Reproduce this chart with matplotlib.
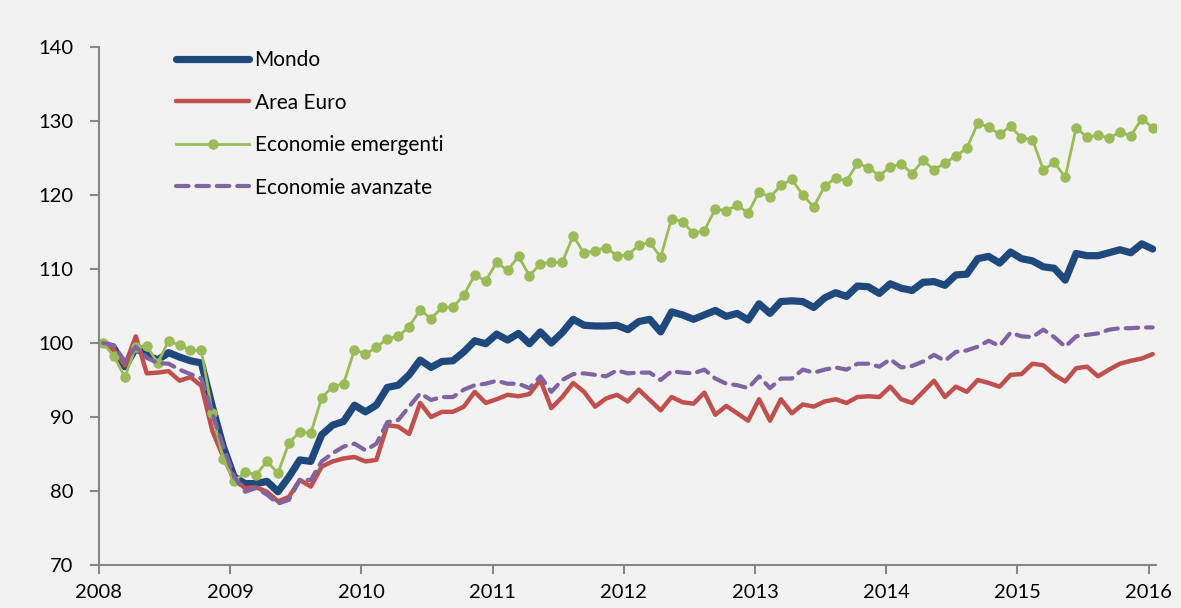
import numpy as np
import matplotlib.pyplot as plt

# monthly index values, Jan 2008 = 100
mondo = [100.0, 99.3, 96.8, 99.3, 98.4, 97.7, 98.7, 98.1, 97.6, 97.3,
         91.4, 86.0, 81.9, 81.0, 81.0, 81.3, 79.9, 81.9, 84.2, 84.0,
         87.6, 88.9, 89.4, 91.6, 90.7, 91.6, 94.0, 94.3, 95.7, 97.7,
         96.7, 97.5, 97.6, 98.8, 100.3, 99.9, 101.2, 100.4, 101.3, 99.9,
         101.5, 100.0, 101.4, 103.2, 102.4, 102.3, 102.3, 102.4, 101.8, 102.9,
         103.2, 101.5, 104.2, 103.8, 103.2, 103.8, 104.4, 103.6, 104.0, 103.1,
         105.3, 104.0, 105.6, 105.7, 105.6, 104.8, 106.1, 106.8, 106.3, 107.7,
         107.6, 106.7, 108.0, 107.4, 107.1, 108.2, 108.3, 107.8, 109.2, 109.3,
         111.4, 111.7, 110.8, 112.3, 111.4, 111.1, 110.3, 110.1, 108.5, 112.1,
         111.8, 111.8, 112.2, 112.6, 112.2, 113.4, 112.7]

area_euro = [100.0, 99.1, 97.0, 100.9, 95.9, 96.0, 96.2, 94.9, 95.4, 94.2,
             88.1, 84.6, 81.5, 80.4, 80.5, 79.9, 78.6, 79.2, 81.5, 80.6,
             83.3, 84.0, 84.4, 84.6, 84.0, 84.2, 88.9, 88.7, 87.7, 91.9,
             90.0, 90.7, 90.7, 91.4, 93.4, 91.9, 92.4, 93.0, 92.8, 93.1,
             95.0, 91.2, 92.7, 94.6, 93.4, 91.4, 92.5, 93.0, 92.1, 93.7,
             92.3, 90.9, 92.7, 92.0, 91.8, 93.3, 90.3, 91.5, 90.5, 89.5,
             92.4, 89.5, 92.4, 90.5, 91.7, 91.4, 92.1, 92.4, 91.9, 92.7,
             92.8, 92.7, 94.1, 92.4, 91.9, 93.4, 94.9, 92.7, 94.1, 93.4,
             95.0, 94.6, 94.1, 95.7, 95.8, 97.2, 97.0, 95.7, 94.8, 96.6,
             96.8, 95.5, 96.4, 97.2, 97.6, 97.9, 98.5]

emergenti = [100.0, 98.2, 95.4, 99.5, 99.6, 97.3, 100.3, 99.7, 99.0, 99.0,
             90.5, 84.3, 81.3, 82.6, 82.2, 84.0, 82.4, 86.5, 88.0, 87.8,
             92.6, 94.1, 94.5, 99.1, 98.5, 99.4, 100.6, 100.9, 102.2, 104.5,
             103.3, 104.8, 104.8, 106.5, 109.2, 108.4, 110.9, 109.8, 111.7, 109.1,
             110.7, 110.9, 110.9, 114.5, 112.1, 112.5, 112.9, 111.8, 111.9, 113.2,
             113.6, 111.6, 116.8, 116.4, 114.8, 115.2, 118.1, 117.9, 118.6, 117.6,
             120.4, 119.7, 121.3, 122.1, 120.0, 118.4, 121.2, 122.3, 121.9, 124.3,
             123.7, 122.6, 123.8, 124.2, 122.9, 124.7, 123.4, 124.3, 125.3, 126.3,
             129.7, 129.2, 128.2, 129.3, 127.7, 127.5, 123.4, 124.4, 122.4, 129.1,
             127.8, 128.1, 127.7, 128.5, 128.0, 130.3, 129.1]

avanzate = [100.0, 99.7, 97.5, 99.5, 98.0, 97.3, 97.2, 96.4, 95.8, 95.2,
            90.5, 86.0, 81.9, 79.9, 80.4, 79.5, 78.3, 78.8, 81.5, 81.5,
            84.0, 85.1, 86.0, 86.4, 85.5, 86.4, 89.3, 89.6, 91.4, 93.2,
            92.3, 92.7, 92.7, 93.7, 94.3, 94.5, 94.9, 94.5, 94.5, 93.9,
            95.5, 93.4, 95.0, 95.8, 95.9, 95.7, 95.5, 96.3, 95.9, 96.0,
            96.0, 95.0, 96.2, 96.0, 95.9, 96.4, 95.2, 94.5, 94.3, 93.9,
            95.5, 93.9, 95.2, 95.2, 96.4, 96.0, 96.4, 96.7, 96.4, 97.2,
            97.2, 96.8, 97.8, 96.7, 96.9, 97.5, 98.4, 97.6, 98.8, 99.0,
            99.5, 100.3, 99.6, 101.4, 100.9, 100.8, 101.8, 100.8, 99.5, 100.9,
            101.1, 101.3, 101.8, 102.0, 102.0, 102.1, 102.1]

years = [2008, 2009, 2010, 2011, 2012, 2013, 2014, 2015, 2016]

bg = '#f2f2f2'
plt.rcParams['font.family'] = ['Lato', 'DejaVu Sans']

fig = plt.figure(figsize=(11.81, 6.08), dpi=100, facecolor=bg)
ax = fig.add_axes([0.0838, 0.0707, 0.895, 0.852])
ax.set_facecolor(bg)

# month index, first month sits a little right of the 2008 tick
x = np.arange(len(mondo))
tick_pos = [12 * k - 0.37 for k in range(len(years))]

ax.plot(x, mondo, color='#1f497d', lw=5.2, solid_capstyle='round',
        solid_joinstyle='round', label='Mondo')
ax.plot(x, area_euro, color='#c0504d', lw=3.2, solid_capstyle='round',
        solid_joinstyle='round', label='Area Euro')
ax.plot(x, emergenti, color='#9bbb59', lw=2.0, marker='o', markersize=6.5,
        solid_joinstyle='round', label='Economie emergenti')
ax.plot(x, avanzate, color='#8064a2', lw=3.0, ls=(0, (3, 1.9)),
        dash_capstyle='round', label='Economie avanzate')

ax.set_ylim(70, 140)
ax.set_yticks(range(70, 141, 10))
ax.set_xlim(tick_pos[0], 96.3)
ax.set_xticks(tick_pos)
ax.set_xticklabels([str(y) for y in years])

for s in ['top', 'right']:
    ax.spines[s].set_visible(False)
for s in ['left', 'bottom']:
    ax.spines[s].set_color('#868686')
    ax.spines[s].set_linewidth(1.5)
ax.tick_params(axis='both', colors='#868686', labelcolor='black',
               labelsize=14.5, width=1.5, length=6.5)
ax.tick_params(axis='x', pad=7)
ax.tick_params(axis='y', pad=12)

leg = ax.legend(loc='upper left', bbox_to_anchor=(0.0555, 1.03), frameon=False,
                fontsize=15, handlelength=3.5, handletextpad=0.25,
                labelspacing=1.08)

fig.savefig('out.png', dpi=100, facecolor=bg)
